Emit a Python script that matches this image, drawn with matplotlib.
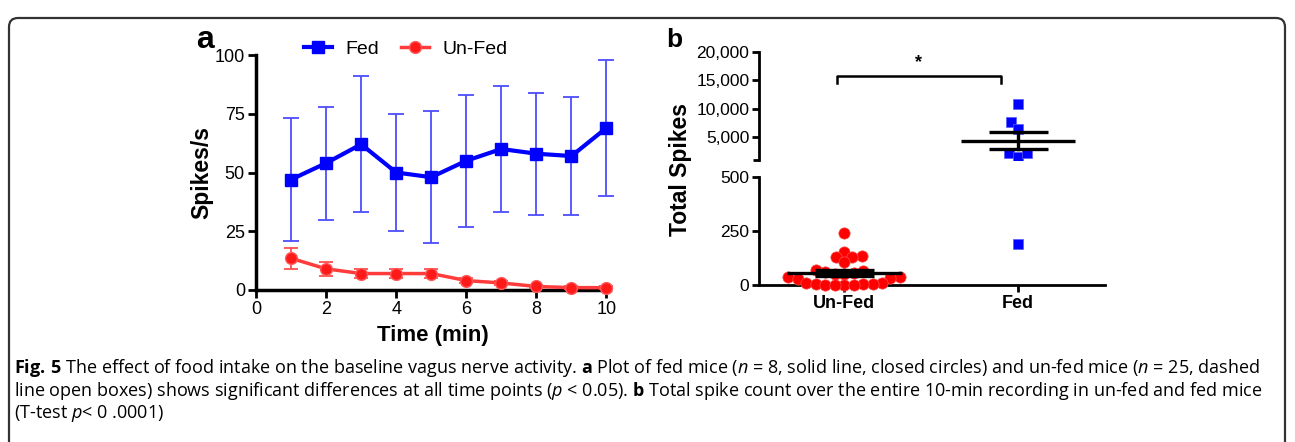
import matplotlib
matplotlib.use("Agg")
import matplotlib.pyplot as plt
import matplotlib.patches as mpatches
from matplotlib.lines import Line2D
from matplotlib.transforms import IdentityTransform
from matplotlib import ticker
import numpy as np

plt.rcParams['font.family'] = ['Liberation Sans', 'DejaVu Sans']
plt.rcParams['mathtext.fontset'] = 'custom'
plt.rcParams['mathtext.rm'] = 'Open Sans'
plt.rcParams['mathtext.it'] = 'Open Sans:italic'
plt.rcParams['mathtext.bf'] = 'Open Sans:bold'

# --- panel a data: spikes/s over time ---
time_min = [1, 2, 3, 4, 5, 6, 7, 8, 9, 10]
fed_mean = [47, 54, 62, 50, 48, 55, 60, 58, 57, 69]
fed_err = [26, 24, 29, 25, 28, 28, 27, 26, 25, 29]
unfed_mean = [13.5, 9, 7, 7, 7, 4, 3, 1.5, 1, 1]
unfed_err = [4.5, 3, 2, 2, 2, 1, 1, 0.5, 0.5, 0.5]

# --- panel b data: total spikes per animal ---
groups = ["Un-Fed", "Fed"]
unfed_total = [240, 155, 132, 130, 128, 105, 68, 64, 60, 55, 52, 50,
               38, 35, 32, 28, 10, 8, 5, 5, 3, 2, 0, 0, 0]
fed_total = [10800, 7700, 6400, 2200, 1500, 2200, 190]

caption = [
    r"$\mathbf{Fig.\!\ 5}$ The effect of food intake on the baseline vagus nerve activity. $\mathbf{a}$ Plot of fed mice ($n$ = 8, solid line, closed circles) and un-fed mice ($n$ = 25, dashed",
    r"line open boxes) shows significant differences at all time points ($p$ < 0.05). $\mathbf{b}$ Total spike count over the entire 10-min recording in un-fed and fed mice",
    r"(T-test $p$< 0 .0001)",
]

W, H = 1295, 442
fig = plt.figure(figsize=(W / 100, H / 100), dpi=100)


def fx(px):
    return px / W


def fy(py):
    return 1 - py / H


# border around the whole figure
frame = mpatches.FancyBboxPatch((9, -30), 1276, 463 - 9, boxstyle="round,pad=0,rounding_size=9",
                                transform=IdentityTransform(), fill=False, lw=1.6, ec="#333333")
fig.patches.append(frame)

# ——— panel a ———
axa = fig.add_axes([fx(256), fy(290), fx(610) - fx(256), fy(55) - fy(290)])
axa.errorbar(time_min, fed_mean, yerr=fed_err, color="#0000ff", lw=3, marker="s", ms=8,
             ecolor="#4d4dff", elinewidth=1.3, capsize=6, capthick=1.3, clip_on=False, zorder=3)
axa.errorbar(time_min, unfed_mean, yerr=unfed_err, color="#ff3b3b", lw=2.5, marker="o", ms=8.5,
             mfc="#ff1a1a", mec="#ff5a5a", ecolor="#ff5050", elinewidth=1.3, capsize=5, capthick=1.3,
             clip_on=False, zorder=3)
axa.set_xlim(0, 10.1)
axa.set_ylim(0, 100)
axa.set_xticks([0, 2, 4, 6, 8, 10])
axa.set_yticks([0, 25, 50, 75, 100])
for s in ["top", "right"]:
    axa.spines[s].set_visible(False)
for s in ["left", "bottom"]:
    axa.spines[s].set_linewidth(2.5)
axa.tick_params(width=2, length=6, labelsize=13, pad=2)
axa.set_xlabel("Time (min)", fontsize=16, fontweight="bold", labelpad=5)
axa.set_ylabel("Spikes/s", fontsize=16.5, fontweight="bold", labelpad=1)
handles = [Line2D([], [], color="#0000ff", lw=3, marker="s", ms=8),
           Line2D([], [], color="#ff3b3b", lw=2.5, marker="o", ms=8.5, mfc="#ff1a1a", mec="#ff5a5a")]
axa.legend(handles, ["Fed", "Un-Fed"], loc="lower left", bbox_to_anchor=(0.113, 0.955), ncol=2,
           frameon=False, fontsize=14, handlelength=1.45, columnspacing=1.1, handletextpad=0.7,
           borderaxespad=0)
fig.text(fx(196), fy(40), "a", fontsize=23, fontweight="bold", va="center")

# ——— panel b (broken y-axis) ———
axlo = fig.add_axes([fx(759), fy(285), fx(1105) - fx(759), fy(177) - fy(285)])
axhi = fig.add_axes([fx(759), fy(160), fx(1105) - fx(759), fy(52) - fy(160)])
for ax in (axlo, axhi):
    ax.set_xlim(-0.49, 1.5)
    ax.patch.set_visible(False)
    for s in ["top", "right"]:
        ax.spines[s].set_visible(False)
    ax.spines["left"].set_linewidth(2)
    ax.spines["bottom"].set_linewidth(2)
    ax.tick_params(width=2, length=5, labelsize=12.5, pad=2)
axlo.set_ylim(0, 500)
axlo.set_yticks([0, 250, 500])
axlo.set_xticks([0, 1])
axlo.set_xticklabels(groups, fontsize=13, fontweight="bold")
axhi.set_ylim(1000, 20000)
axhi.set_yticks([5000, 10000, 15000, 20000])
axhi.set_yticks([1000], minor=True)
axhi.tick_params(which="minor", width=2, length=4)
axhi.yaxis.set_major_formatter(ticker.StrMethodFormatter("{x:,.0f}"))
axhi.spines["bottom"].set_visible(False)
axhi.set_xticks([])


def swarm_x(ax, x0, vals, d):
    """simple beeswarm (lowest values placed first): x positions keeping centres d px apart"""
    vals = np.asarray(vals, float)
    pts = ax.transData.transform(np.column_stack([np.full(len(vals), x0), vals]))
    placed = []
    out = np.zeros(len(vals))
    for i in np.argsort(vals, kind="stable"):
        px, py = pts[i]
        cands = [px]
        for qx, qy in placed:
            dy = abs(qy - py)
            if dy < d:
                dx = np.sqrt(d * d - dy * dy) + 0.01
                cands += [qx - dx, qx + dx]
        cands.sort(key=lambda c: abs(c - px))
        for c in cands:
            if all((c - qx) ** 2 + (py - qy) ** 2 >= d * d - 0.1 for qx, qy in placed):
                break
        placed.append((c, py))
        out[i] = ax.transData.inverted().transform((c, py))[0]
    return out


unfed_arr = np.array(unfed_total, float)
fed_arr = np.array(fed_total, float)
xu = swarm_x(axlo, 0, unfed_arr, 9.5)
axlo.scatter(xu, unfed_arr, s=66, color="#ff0000", edgecolors="#ff4d4d", lw=0.5, zorder=3, clip_on=False)
lo_mask = fed_arr <= 500
xf_lo = swarm_x(axlo, 1, fed_arr[lo_mask], 10)
axlo.scatter(xf_lo, fed_arr[lo_mask], s=60, marker="s", color="#0000ff", edgecolors="#5a5aff", lw=0.5, zorder=3)
xf_hi = swarm_x(axhi, 1, fed_arr[~lo_mask], 10)
axhi.scatter(xf_hi, fed_arr[~lo_mask], s=60, marker="s", color="#0000ff", edgecolors="#5a5aff", lw=0.5, zorder=3)

# mean +/- SEM
for xc, arr in [(0, unfed_arr), (1, fed_arr)]:
    m = arr.mean()
    sem = arr.std(ddof=1) / np.sqrt(len(arr))
    for ax in (axlo, axhi):
        ax.plot([xc - 0.33, xc + 0.33], [m, m], color="black", lw=2.4, zorder=4, solid_capstyle="butt")
        ax.plot([xc - 0.17, xc + 0.17], [m + sem, m + sem], color="black", lw=2.4, zorder=4, solid_capstyle="butt")
        ax.plot([xc - 0.17, xc + 0.17], [m - sem, m - sem], color="black", lw=2.4, zorder=4, solid_capstyle="butt")
        ax.plot([xc, xc], [m - sem, m + sem], color="black", lw=2.4, zorder=4)

# significance bracket
axhi.plot([-0.04, -0.04, 0.9, 0.9], [14600, 15800, 15800, 14600], color="black", lw=1.8)
axhi.text(0.43, 16600, "*", ha="center", va="bottom", fontsize=13, fontweight="bold")

fig.text(fx(681), fy(170), "Total Spikes", rotation=90, fontsize=16.5, fontweight="bold", ha="center", va="center")
fig.text(fx(666), fy(40), "b", fontsize=19, fontweight="bold", va="center")

# caption
for k, line in enumerate(caption):
    fig.text(fx(14), fy(368 + 22.5 * k), line, fontsize=13, family="Open Sans", va="center", ha="left")

fig.savefig("out.png", dpi=100)
